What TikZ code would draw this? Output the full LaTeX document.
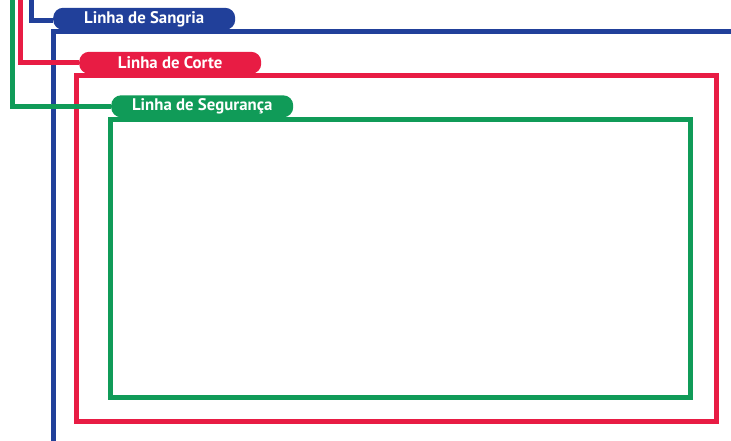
\documentclass[tikz,border=0pt]{standalone}
\usepackage{fontspec}
\setsansfont{PT Sans}
\usetikzlibrary{positioning}

\definecolor{sangria}{HTML}{21409A}
\definecolor{corte}{HTML}{E81C44}
\definecolor{seguranca}{HTML}{109B58}

\begin{document}
\begin{tikzpicture}[x=1pt,y=-1pt,
	line/.style = {line width=5pt},
	tag/.style = {rounded corners=10pt, text=white, font=\sffamily\bfseries\fontsize{16.8}{16.8}\selectfont, minimum width=182pt, minimum height=22pt, inner sep=0pt, anchor=south west}]
	\useasboundingbox (0,0) rectangle (731,441);
	% linha de sangria
	\coordinate (sangria top) at (31.5,0);
	\draw[line,sangria] (731,31.5) -- (53.5,31.5) -- (53.5,441);
	\node[tag,fill=sangria] (sangria) at (53,30) {Linha de Sangria};
	\draw[line,sangria] (sangria top) |- ([yshift=-2pt]sangria.west);
	% linha de corte
	\coordinate (corte top) at (20.5,0);
	\draw[line,corte] (76.5,75.5) rectangle (716.5,421.5);
	\node[tag,fill=corte] (corte) at (79,74) {Linha de Corte};
	\draw[line,corte] (corte top) |- (corte.west);
	% linha de seguranca
	\coordinate (seguranca top) at (12.75,0);
	\draw[line,seguranca] (110.5,119.5) rectangle (690.5,397.5);
	\node[tag,fill=seguranca] (seguranca) at (111,117.5) {Linha de Segurança};
	\draw[line,seguranca] (seguranca top) |- (seguranca.west);
\end{tikzpicture}
\end{document}
